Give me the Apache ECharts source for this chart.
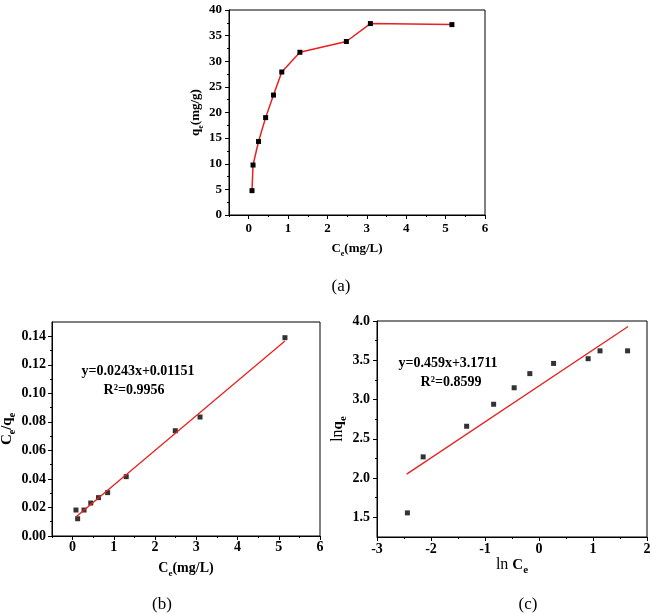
<!DOCTYPE html>
<html>
<head>
<meta charset="utf-8">
<script src="https://cdn.jsdelivr.net/npm/echarts@6/dist/echarts.min.js"></script>
<style>html,body{margin:0;padding:0;background:#fff}#main{width:650px;height:613px}</style>
</head>
<body>
<div id="main"></div>
<script>
// ---- (a) adsorption isotherm ----
var ceA = [0.084, 0.11, 0.25, 0.43, 0.63, 0.84, 1.30, 2.48, 3.09, 5.16];
var qeA = [4.75, 9.75, 14.35, 19.0, 23.4, 27.9, 31.75, 33.85, 37.35, 37.15];
// ---- (b) Langmuir ----
var ceB = [0.081, 0.122, 0.277, 0.44, 0.628, 0.85, 1.30, 2.49, 3.09, 5.15];
var ceqeB = [0.0182, 0.0121, 0.0182, 0.0231, 0.0269, 0.0304, 0.0416, 0.0738, 0.0834, 0.139];
var fitBx = [0.08, 5.15];
var fitBy = [0.0134, 0.1367];
var eqB = ['y=0.0243x+0.01151', 'R\u00b2=0.9956'];
// ---- (c) Freundlich ----
var lnCe = [-2.437, -2.145, -1.34, -0.84, -0.46, -0.17, 0.27, 0.91, 1.13, 1.64];
var lnqe = [1.557, 2.27, 2.66, 2.94, 3.15, 3.33, 3.46, 3.52, 3.62, 3.62];
var fitCx = [-2.45, 1.65];
var fitCy = [2.05, 3.93];
var eqC = ['y=0.459x+3.1711', 'R\u00b2=0.8599'];
// ---- ticks ----
var xTicksAB = [0, 1, 2, 3, 4, 5, 6];
var xMinorAB = [-0.5, 0.5, 1.5, 2.5, 3.5, 4.5, 5.5];
var yTicksA = [0, 5, 10, 15, 20, 25, 30, 35, 40];
var yMinorA = [2.5, 7.5, 12.5, 17.5, 22.5, 27.5, 32.5, 37.5];
var yTicksB = [0, 0.02, 0.04, 0.06, 0.08, 0.10, 0.12, 0.14];
var yMinorB = [0.01, 0.03, 0.05, 0.07, 0.09, 0.11, 0.13];
var xTicksC = [-3, -2, -1, 0, 1, 2];
var xMinorC = [-2.5, -1.5, -0.5, 0.5, 1.5];
var yTicksC = [1.5, 2.0, 2.5, 3.0, 3.5, 4.0];
var yMinorC = [1.75, 2.25, 2.75, 3.25, 3.75];
var panelLabels = ['(a)', '(b)', '(c)'];

var SERIF = '"Liberation Serif","Times New Roman",serif';
var RED = '#e8201e';

function pairs(xs, ys) { return xs.map(function (x, i) { return [x, ys[i]]; }); }

function richStyle(size, subSize) {
  return {
    b: { fontFamily: SERIF, fontWeight: 'bold', fontSize: size, color: '#000', lineHeight: size + 6 },
    r: { fontFamily: SERIF, fontWeight: 'normal', fontSize: size + 1, color: '#000', lineHeight: size + 6 },
    s: { fontFamily: SERIF, fontWeight: 'bold', fontSize: subSize, color: '#000', verticalAlign: 'bottom', lineHeight: subSize }
  };
}

function axisPair(dim, gi, min, max, major, minor, digits, fontSize, margin, name, nameGap, nameSize, subSize) {
  var main = {
    type: 'value', gridIndex: gi, min: min, max: max,
    position: dim === 'x' ? 'bottom' : 'left',
    axisLine: { show: true, onZero: false, lineStyle: { color: '#000', width: 1 } },
    axisTick: { show: true, inside: false, length: 4, customValues: major, lineStyle: { color: '#000', width: 1 } },
    axisLabel: {
      customValues: major, margin: margin, color: '#000',
      fontFamily: SERIF, fontWeight: 'bold', fontSize: fontSize,
      formatter: function (v) { return Number(v).toFixed(digits); }
    },
    splitLine: { show: false },
    name: name, nameLocation: 'middle', nameGap: nameGap,
    nameTextStyle: { fontFamily: SERIF, fontWeight: 'bold', fontSize: nameSize, color: '#000', rich: richStyle(nameSize, subSize) }
  };
  var mn = {
    type: 'value', gridIndex: gi, min: min, max: max,
    position: dim === 'x' ? 'bottom' : 'left',
    axisLine: { show: false, onZero: false },
    axisTick: { show: true, inside: false, length: 2, customValues: minor, lineStyle: { color: '#000', width: 1 } },
    axisLabel: { show: false },
    splitLine: { show: false }
  };
  return [main, mn];
}

var xA = axisPair('x', 0, -0.5, 6, xTicksAB, xMinorAB, 0, 13, 7, '{b|C}{s|e}{b|(mg/L)}', 24, 13, 8);
var yA = axisPair('y', 0, 0, 40, yTicksA, yMinorA, 0, 13, 7, '{b|q}{s|e}{b|(mg/g)}', 22, 13, 8);
var xB = axisPair('x', 1, -0.5, 6, xTicksAB, xMinorAB, 0, 14, 4, '{b|C}{s|e}{b|(mg/L)}', 22, 14, 9);
var yB = axisPair('y', 1, 0, 0.15, yTicksB, yMinorB, 2, 14, 6, '{b|C}{s|e}{b|/q}{s|e}', 30, 15, 10);
var xC = axisPair('x', 2, -3, 2, xTicksC, xMinorC, 0, 14, 5, '{r|ln }{b|C}{s|e}', 17, 15, 11);
var yC = axisPair('y', 2, 1.25, 4, yTicksC, yMinorC, 1, 14, 7, '{r|ln}{b|q}{s|e}', 26, 15, 11);

var gridBase = { show: true, borderColor: '#000', borderWidth: 1, backgroundColor: 'transparent', containLabel: false, outerBoundsMode: 'none' };
function grid(l, t, r, b) { return Object.assign({}, gridBase, { left: l, top: t, right: r, bottom: b }); }

function txt(x, y, s, font) {
  return { type: 'text', x: x, y: y, style: { text: s, font: font, fill: '#000', align: 'center', verticalAlign: 'middle' } };
}

var option = {
  backgroundColor: '#fff',
  animation: false,
  grid: [
    grid(229, 10, 165, 398),
    grid(52, 322, 330, 77),
    grid(377, 321, 3, 76)
  ],
  xAxis: [xA[0], xA[1], xB[0], xB[1], xC[0], xC[1]],
  yAxis: [yA[0], yA[1], yB[0], yB[1], yC[0], yC[1]],
  series: [
    { type: 'line', xAxisIndex: 0, yAxisIndex: 0, data: pairs(ceA, qeA),
      symbol: 'rect', symbolSize: 5, itemStyle: { color: '#000' },
      lineStyle: { color: RED, width: 1.5 } },
    { type: 'line', xAxisIndex: 2, yAxisIndex: 2, data: pairs(fitBx, fitBy),
      symbol: 'none', lineStyle: { color: RED, width: 1.3 } },
    { type: 'scatter', xAxisIndex: 2, yAxisIndex: 2, data: pairs(ceB, ceqeB),
      symbol: 'rect', symbolSize: 5, itemStyle: { color: '#000' } },
    { type: 'line', xAxisIndex: 4, yAxisIndex: 4, data: pairs(fitCx, fitCy),
      symbol: 'none', lineStyle: { color: RED, width: 1.3 } },
    { type: 'scatter', xAxisIndex: 4, yAxisIndex: 4, data: pairs(lnCe, lnqe),
      symbol: 'rect', symbolSize: 5, itemStyle: { color: '#000' } }
  ],
  graphic: [
    txt(138, 371, eqB[0], 'bold 14px ' + SERIF),
    txt(134, 390, eqB[1], 'bold 14px ' + SERIF),
    txt(448, 363, eqC[0], 'bold 14px ' + SERIF),
    txt(451, 382, eqC[1], 'bold 14px ' + SERIF),
    txt(341, 287, panelLabels[0], '17px ' + SERIF),
    txt(162, 605, panelLabels[1], '17px ' + SERIF),
    txt(528, 605, panelLabels[2], '17px ' + SERIF)
  ]
};

var chart = echarts.init(document.getElementById('main'), null, { renderer: 'canvas' });
chart.setOption(option);
</script>
</body>
</html>
